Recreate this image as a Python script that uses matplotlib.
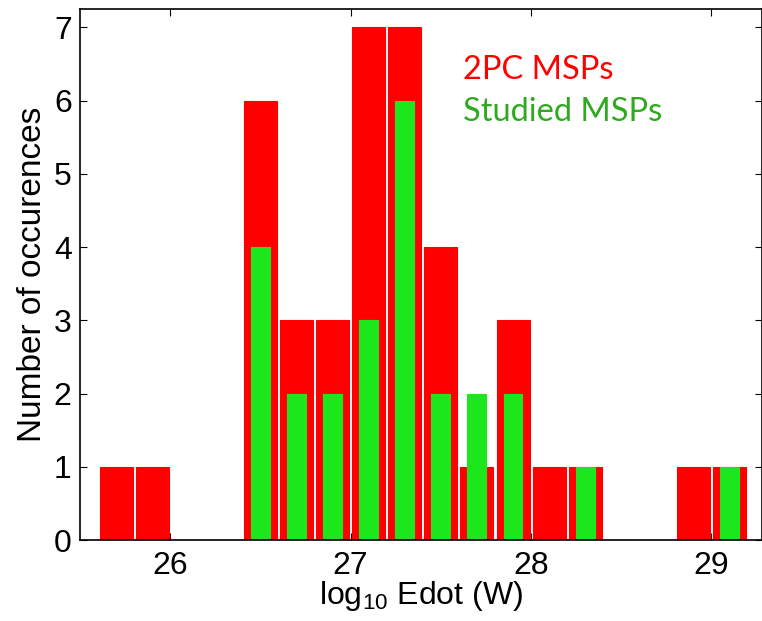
# coding:utf-8
# Edot histogram for MSPs (2PC vs studied)
import numpy as np
from matplotlib import pyplot as plt

# bin centres of log10 Edot (W)
bin_centers = [25.7, 25.9, 26.1, 26.3, 26.5, 26.7, 26.9, 27.1, 27.3,
               27.5, 27.7, 27.9, 28.1, 28.3, 28.5, 28.7, 28.9, 29.1]
# counts per bin
counts_2pc = [1, 1, 0, 0, 6, 3, 3, 7, 7, 4, 1, 3, 1, 1, 0, 0, 1, 1]
counts_studied = [0, 0, 0, 0, 4, 2, 2, 3, 6, 2, 2, 2, 0, 1, 0, 0, 0, 1]

x_ticks = [26, 27, 28, 29]
y_ticks = [0, 1, 2, 3, 4, 5, 6, 7]

plt.rcParams['font.family'] = ['Liberation Sans', 'DejaVu Sans']
plt.rcParams['mathtext.fontset'] = 'custom'
plt.rcParams['mathtext.rm'] = 'Liberation Sans'


def main():
    fig = plt.figure(figsize=(7.62, 6.21), dpi=100)
    ax = fig.add_axes([0.105, 0.13, 0.895, 0.8555])

    x = np.array(bin_centers)
    ax.bar(x, counts_2pc, width=0.183, color='#ff0000',
           edgecolor='#ff0000', linewidth=0.8, zorder=2)
    ax.bar(x, counts_studied, width=0.105, color='#1ce61c',
           edgecolor='#1ce61c', linewidth=0.8, zorder=3)

    ax.set_xlim(25.5, 29.28)
    ax.set_ylim(0, 7.25)
    ax.set_xticks(x_ticks)
    ax.set_yticks(y_ticks)
    ax.tick_params(direction='in', length=5, width=0.8, labelsize=23,
                   top=True, right=True)
    ax.tick_params(axis='x', pad=8)
    ax.tick_params(axis='y', pad=6)
    for s in ax.spines.values():
        s.set_linewidth(1.2)
        s.set_zorder(5)

    # label sits just under the tick labels, as in the original
    ax.set_xlabel(r'log$_{\mathrm{10}}$ Edot (W)', fontsize=23, labelpad=-2)
    ax.set_ylabel('Number of occurences', fontsize=24, labelpad=4)

    # text-only legend
    ax.text(0.562, 0.885, '2PC MSPs', color='#ff0000', fontsize=23.5,
            family=['Lato', 'DejaVu Sans'], transform=ax.transAxes,
            va='center', ha='left')
    ax.text(0.562, 0.806, 'Studied MSPs', color='#2eaa1e', fontsize=23.5,
            family=['Lato', 'DejaVu Sans'], transform=ax.transAxes,
            va='center', ha='left')

    plt.savefig('out.png', dpi=100)


if __name__ == "__main__":
    main()
